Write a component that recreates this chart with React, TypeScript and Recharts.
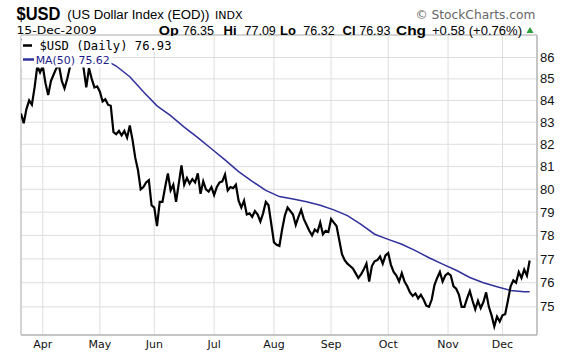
import React from 'react';
import { LineChart, Line, XAxis, YAxis, CartesianGrid, ReferenceArea } from 'recharts';

// Daily closes of $USD, trading days from 20-Mar-2009 (index 0) to 15-Dec-2009 (index 187)
const price = [
  83.4, 82.95, 83.6, 84.0, 83.8, 84.6, 85.6, 85.3, 85.6, 84.8,
  84.25, 84.9, 85.2, 85.5, 85.6, 84.9, 84.55, 85.0, 85.55, 85.9,
  86.1, 85.8, 86.0, 85.5, 84.6, 85.5, 85.0, 84.6, 84.65, 84.4,
  83.95, 84.05, 83.8, 83.75, 82.55, 82.45, 82.6, 82.4, 82.6, 82.3,
  82.85, 82.2, 81.4, 80.85, 80.0, 80.1, 80.3, 80.4, 79.3, 79.2,
  78.4, 79.45, 79.45, 80.1, 80.7, 79.95, 80.2, 79.45, 80.25, 81.05,
  80.2, 80.5, 80.25, 80.45, 80.3, 80.7, 79.8, 80.35, 80.0, 79.9,
  80.1, 79.75, 80.1, 80.3, 80.35, 80.65, 79.95, 80.1, 80.05, 80.2,
  79.5, 79.2, 79.5, 78.9, 78.95, 78.8, 79.05, 78.9, 78.6, 78.95,
  79.45, 79.3, 78.5, 77.7, 77.6, 77.55, 78.25, 78.85, 79.2, 79.05,
  78.9, 78.45, 78.8, 79.1, 78.7, 78.45, 78.2, 78.0, 78.25, 78.15,
  78.55, 78.05, 78.2, 78.15, 78.7, 78.55, 78.4, 77.8, 77.2, 76.95,
  76.8, 76.7, 76.6, 76.4, 76.2, 76.35, 76.55, 76.8, 76.05, 76.7,
  76.9, 76.95, 77.1, 76.8, 77.15, 77.25, 76.75, 76.45, 76.3, 76.05,
  76.4, 76.05, 75.85, 75.6, 75.45, 75.55, 75.35, 75.5, 75.3, 75.05,
  75.0, 75.3, 75.9, 76.2, 76.45, 76.05, 76.3, 76.4, 76.3, 75.85,
  75.75, 75.5, 75.0, 75.0, 75.35, 75.65, 75.25, 74.9, 75.25, 74.95,
  75.2, 75.6, 75.0, 74.65, 74.2, 74.6, 74.4, 74.65, 74.7, 75.25,
  75.85, 76.1, 76.0, 76.45, 76.2, 76.55, 76.3, 76.93,
];

// MA(50) readings at selected trading-day indices
const maDays = [0, 5, 10, 15, 20, 25, 30, 35, 40, 45, 50, 55, 60, 65, 70, 75, 80, 85, 90, 95,
  100, 105, 110, 115, 120, 125, 130, 135, 140, 145, 150, 155, 160, 165, 170, 175, 180, 185, 187];
const maValues = [86.85, 86.75, 86.65, 86.55, 86.4, 86.2, 85.95, 85.6, 85.1, 84.4, 83.75, 83.3, 82.78, 82.3, 81.8, 81.3, 80.78, 80.35, 79.95, 79.68,
  79.57, 79.45, 79.3, 79.1, 78.85, 78.47, 78.05, 77.83, 77.62, 77.35, 77.05, 76.78, 76.52, 76.22, 76.0, 75.83, 75.68, 75.62, 75.62];

const monthTicks = [8, 29, 49, 71, 93, 114, 135, 157, 177];
const monthLabels = ['Apr', 'May', 'Jun', 'Jul', 'Aug', 'Sep', 'Oct', 'Nov', 'Dec'];
const priceTicks = [75, 76, 77, 78, 79, 80, 81, 82, 83, 84, 85, 86];
const yDomain: [number, number] = [73.85, 87.07];
const xDomain: [number, number] = [0, 189.7];

const data = price.map((p, i) => {
  const k = maDays.indexOf(i);
  return { day: i, price: p, ma: k >= 0 ? maValues[k] : null };
});

const SANS = 'Liberation Sans, Arial, sans-serif';
const DEJA = 'DejaVu Sans, Verdana, sans-serif';
const MONO = 'DejaVu Sans Mono, monospace';
const BORDER = '#b8b8b8';

export default function App() {
  return (
    <div style={{ position: 'absolute', left: 0, top: 0, width: 576, height: 356, background: '#fff' }}>
      <LineChart width={576} height={356} data={data} margin={{ top: 35, right: 0, bottom: 0, left: 21 }}>
        <CartesianGrid stroke="#dedede" strokeWidth={1} />
        <XAxis
          dataKey="day"
          type="number"
          domain={xDomain}
          ticks={monthTicks}
          interval={0}
          allowDataOverflow
          tickFormatter={(v: number) => monthLabels[monthTicks.indexOf(v)]}
          height={21}
          tickSize={0}
          tickMargin={5}
          axisLine={{ stroke: BORDER }}
          tick={{ fontFamily: DEJA, fontSize: 11, fill: '#111' }}
        />
        <YAxis
          orientation="right"
          scale="log"
          domain={yDomain}
          ticks={priceTicks}
          interval={0}
          allowDataOverflow
          width={39}
          tickSize={0}
          tickMargin={3}
          axisLine={{ stroke: BORDER }}
          tick={{ fontFamily: SANS, fontSize: 13, fill: '#111' }}
        />
        <ReferenceArea x1={xDomain[0]} x2={xDomain[1]} y1={yDomain[0]} y2={yDomain[1]} fill="none" stroke={BORDER} ifOverflow="visible" />
        <Line dataKey="ma" stroke="#30309c" strokeWidth={1.5} dot={false} connectNulls isAnimationActive={false} />
        <Line dataKey="price" stroke="#000" strokeWidth={2.2} dot={false} isAnimationActive={false} />
      </LineChart>
      <svg width={576} height={356} style={{ position: 'absolute', left: 0, top: 0, pointerEvents: 'none' }}>
        <text x={16.5} y={19.5} fontFamily={SANS} fontWeight="bold" fontSize={17.5} textLength={44} lengthAdjust="spacingAndGlyphs" fill="#000">$USD</text>
        <text x={67.3} y={19} fontFamily={SANS} fontSize={12.5} textLength={142} lengthAdjust="spacingAndGlyphs" fill="#000">(US Dollar Index (EOD))</text>
        <text x={215} y={19} fontFamily={DEJA} fontSize={11} textLength={27.6} lengthAdjust="spacingAndGlyphs" fill="#000">INDX</text>
        <text x={415.4} y={19} fontFamily={DEJA} fontSize={12} textLength={120} lengthAdjust="spacingAndGlyphs" fill="#666">© StockCharts.com</text>
        <text x={16.5} y={33.8} fontFamily={DEJA} fontSize={11} textLength={80} lengthAdjust="spacingAndGlyphs" fill="#000">15-Dec-2009</text>
        <g fontFamily={SANS} fill="#000">
          <text x={158.8} y={34.5} fontSize={13} fontWeight="bold" textLength={20} lengthAdjust="spacingAndGlyphs">Op</text>
          <text x={182.7} y={34.5} fontSize={12.5}>76.35</text>
          <text x={223.5} y={34.5} fontSize={13} fontWeight="bold">Hi</text>
          <text x={244.5} y={34.5} fontSize={12.5}>77.09</text>
          <text x={280.1} y={34.5} fontSize={13} fontWeight="bold">Lo</text>
          <text x={303.3} y={34.5} fontSize={12.5}>76.32</text>
          <text x={342.6} y={34.5} fontSize={13} fontWeight="bold">Cl</text>
          <text x={359.2} y={34.5} fontSize={12.5}>76.93</text>
          <text x={396} y={34.5} fontSize={13} fontWeight="bold" textLength={30} lengthAdjust="spacingAndGlyphs">Chg</text>
          <text x={432} y={34.5} fontSize={12.5} textLength={90} lengthAdjust="spacingAndGlyphs">+0.58 (+0.76%)</text>
        </g>
        <polygon points="526.5,33 533.5,33 530,27" fill="#2e9e3a" />
        <rect x={21.5} y={36} width={152} height={16} fill="#fff" />
        <rect x={21.5} y={52} width={90} height={15.5} fill="#fff" />
        <line x1={23} x2={32} y1={45.5} y2={45.5} stroke="#000" strokeWidth={2.5} />
        <text x={39.5} y={49.5} fontFamily={MONO} fontSize={12} textLength={132} lengthAdjust="spacingAndGlyphs" fill="#000">$USD (Daily) 76.93</text>
        <line x1={23} x2={34} y1={59.5} y2={59.5} stroke="#30309c" strokeWidth={2.5} />
        <text x={35.7} y={63.5} fontFamily={DEJA} fontSize={10.5} textLength={74} lengthAdjust="spacingAndGlyphs" fill="#1c1c8c">MA(50) 75.62</text>
      </svg>
    </div>
  );
}
